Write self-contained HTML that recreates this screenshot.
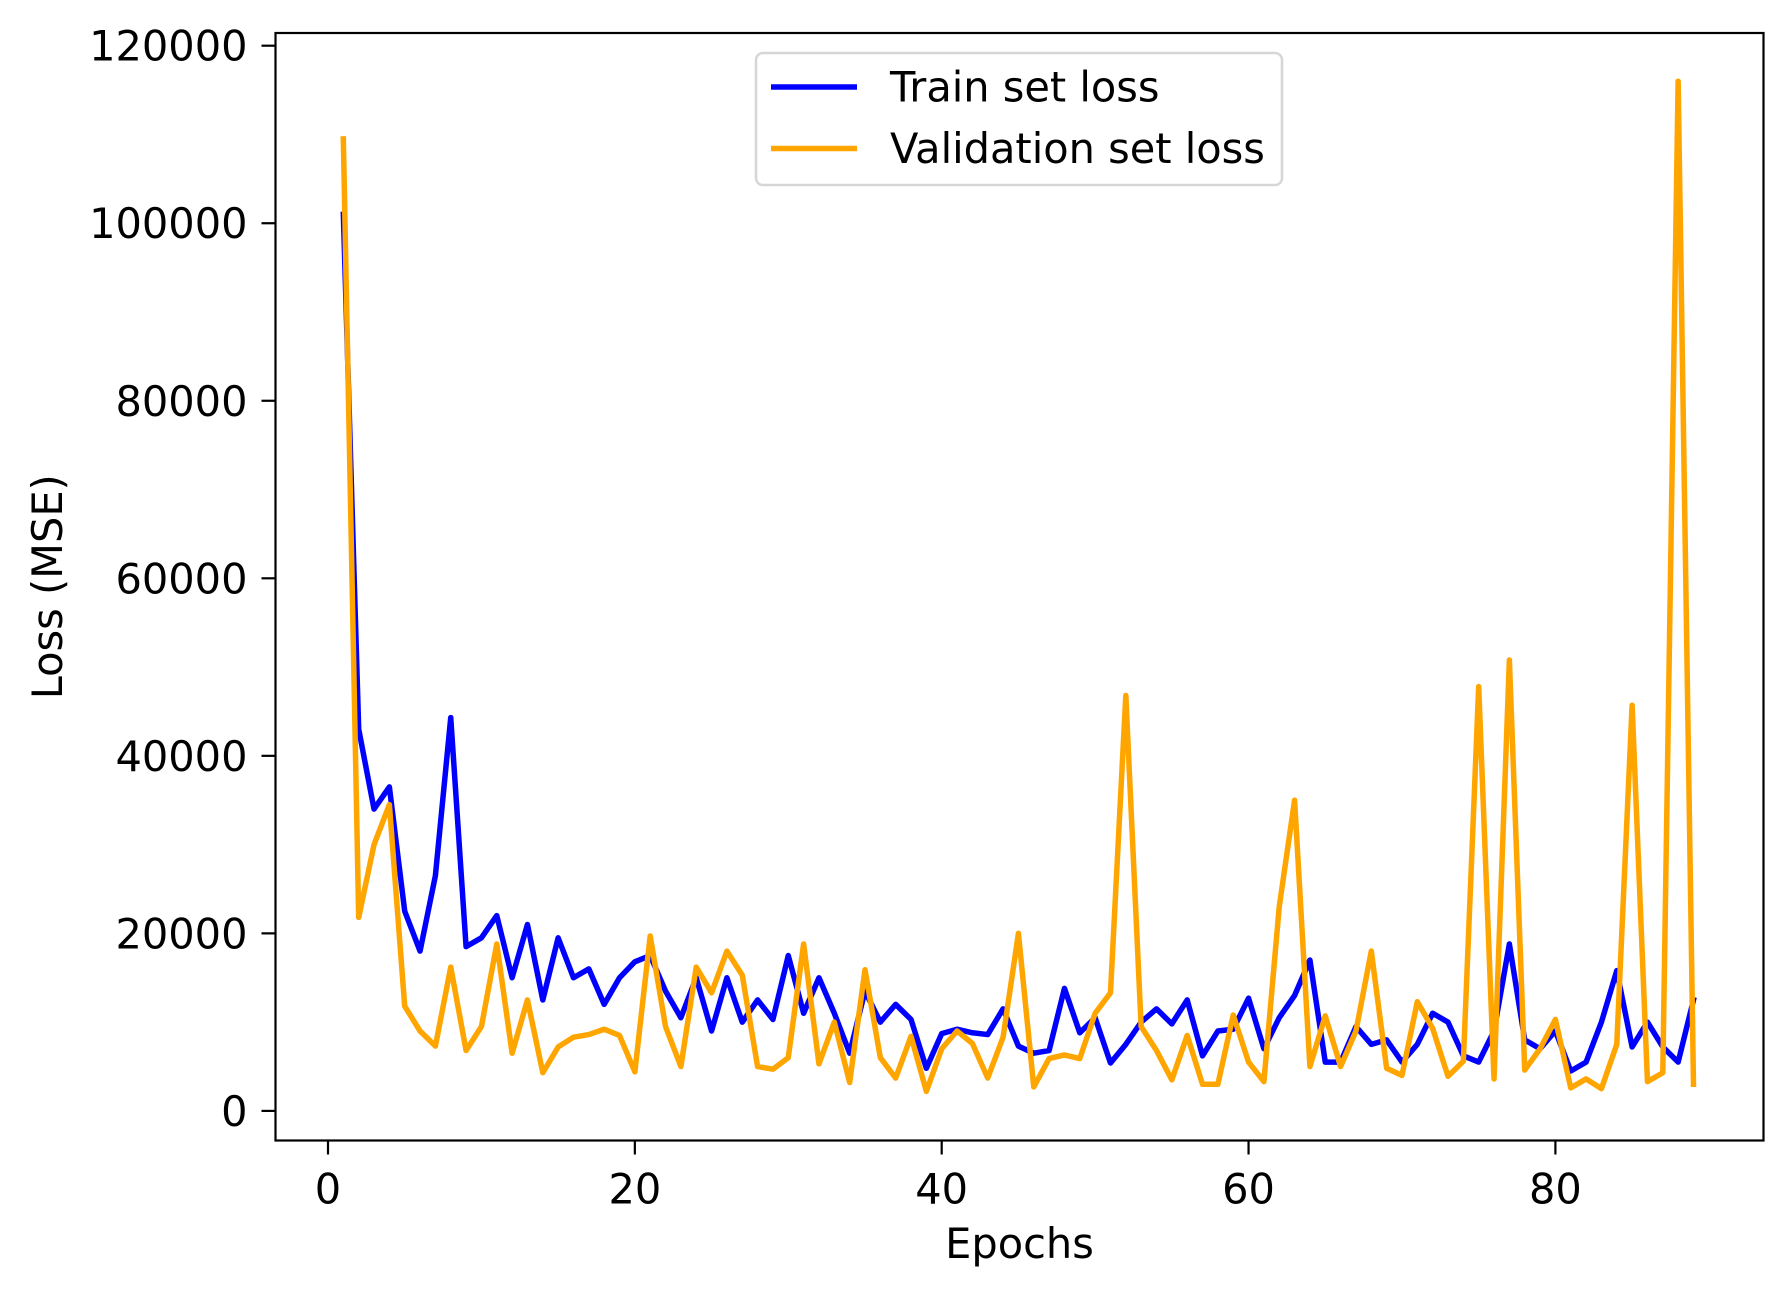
<!DOCTYPE html>
<html><head><meta charset="utf-8"><style>
html,body{margin:0;padding:0;background:#fff;}
svg text{font-family:"DejaVu Sans","Liberation Sans",sans-serif;fill:#000;}
</style></head><body>
<svg id="chart" width="1792" height="1297" viewBox="0 0 1792 1297" xmlns="http://www.w3.org/2000/svg">
<rect width="1792" height="1297" fill="#fff"/>
<g id="plot"></g>
<g id="axes"></g>
<g id="legend"></g>
</svg>
<script>
const epochs = [];
for (let i = 1; i <= 89; i++) epochs.push(i);
const trainLoss = [101000,43000,34000,36500,22500,18000,26500,44300,18500,19500,22000,15000,21000,12500,19500,15000,16000,12000,15000,16800,17500,13500,10500,15000,9000,15000,10000,12500,10300,17500,11000,15000,11000,6500,13500,10000,12000,10300,4800,8700,9200,8800,8600,11500,7300,6500,6800,13800,8800,10500,5400,7500,10000,11500,9800,12500,6200,9000,9200,12700,7000,10500,13000,17000,5500,5500,9500,7500,8000,5500,7500,11000,10000,6200,5500,9000,18800,8000,7000,9000,4500,5500,10000,15800,7200,10000,7200,5500,12500];
const valLoss = [109500,21800,30000,34500,11800,9000,7300,16200,6800,9500,18800,6500,12500,4300,7200,8300,8600,9200,8500,4400,19700,9500,5000,16200,13300,18000,15300,5000,4700,6000,18800,5300,10000,3200,15900,6000,3700,8400,2200,7000,9000,7600,3700,8300,20000,2700,5900,6300,5900,11000,13300,46800,9500,6800,3500,8500,3000,3000,10800,5500,3300,23000,35000,5000,10700,5000,9000,18000,4800,4000,12300,9300,3900,5600,47800,3600,50800,4600,7000,10300,2600,3600,2500,7500,45700,3300,4300,116000,3000];
const xTicks = [0,20,40,60,80];
const yTicks = [0,20000,40000,60000,80000,100000,120000];

const NS = "http://www.w3.org/2000/svg";
const L = 275.5, R = 1763.5, T = 33, B = 1140.5;
const FS = 41.5;
function xs(v){ return 328 + (v - 0) * (1555.4 - 328) / 80; }
function ys(v){ return 1110.9 - v * (1110.9 - 45.7) / 120000; }
function mk(tag, attrs, parent){
  const e = document.createElementNS(NS, tag);
  for (const k in attrs) e.setAttribute(k, attrs[k]);
  parent.appendChild(e);
  return e;
}
const plot = document.getElementById('plot');
const axes = document.getElementById('axes');
const legend = document.getElementById('legend');

function drawLine(vals, color, name){
  const d = vals.map((v,i)=>(i?'L':'M')+xs(epochs[i]).toFixed(2)+','+ys(v).toFixed(2)).join(' ');
  const p = mk('path',{d:d,fill:'none',stroke:color,'stroke-width':5.5,'stroke-linejoin':'round','stroke-linecap':'square'},plot);
  
  
}
drawLine(trainLoss,'#0000ff','train-loss-line');
drawLine(valLoss,'#ffa500','validation-loss-line');

const frame = mk('rect',{x:L,y:T,width:R-L,height:B-T,fill:'none',stroke:'#000','stroke-width':2.2},axes);



xTicks.forEach(t=>{
  const x = xs(t);
  const tk = mk('line',{x1:x,x2:x,y1:B,y2:B+14,stroke:'#000','stroke-width':2.2},axes);
  
  
  const tx = mk('text',{x:x,y:B+63,'text-anchor':'middle','font-size':FS},axes);
  tx.textContent = t;
  
  
});
yTicks.forEach(t=>{
  const y = ys(t);
  const tk = mk('line',{x1:L-14,x2:L,y1:y,y2:y,stroke:'#000','stroke-width':2.2},axes);
  
  
  const tx = mk('text',{x:L-28,y:y+15,'text-anchor':'end','font-size':FS},axes);
  tx.textContent = t;
  
  
});
const xl = mk('text',{x:(L+R)/2,y:1258,'text-anchor':'middle','font-size':FS},axes);
xl.textContent = 'Epochs';


const yl = mk('text',{x:0,y:0,'text-anchor':'middle','font-size':FS,transform:'translate(62,'+((T+B)/2)+') rotate(-90)'},axes);
yl.textContent = 'Loss (MSE)';



const lb = mk('rect',{x:756,y:53,width:526,height:132,rx:7,fill:'#fff','fill-opacity':0.8,stroke:'#d6d6d6','stroke-width':2.5},legend);


[['Train set loss','#0000ff',87,'legend-entry-train'],['Validation set loss','#ffa500',148.5,'legend-entry-validation']].forEach(e=>{
  const g = mk('g',{},legend);
  
  
  mk('line',{x1:771,x2:857,y1:e[2],y2:e[2],stroke:e[1],'stroke-width':5.5},g);
  const t = mk('text',{x:890,y:e[2]+14.5,'font-size':FS},g);
  t.textContent = e[0];
});
</script>
</body></html>
